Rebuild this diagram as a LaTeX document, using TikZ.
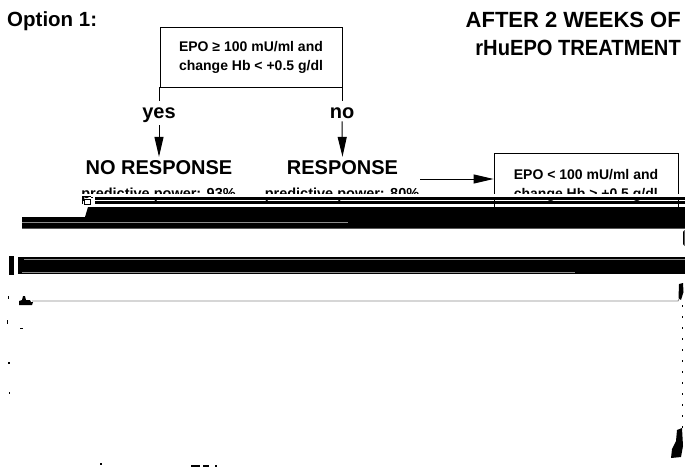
\documentclass[tikz,border=0pt]{standalone}
\usepackage{fontspec}
\setmainfont{Liberation Sans}
\usepackage{graphicx}
\usetikzlibrary{arrows.meta}
\definecolor{scangray}{RGB}{140,140,140}
\begin{document}
\begin{tikzpicture}[x=1pt,y=-1pt,
  title/.style={font=\fontsize{22}{26}\selectfont\bfseries, inner sep=0pt},
  big/.style={font=\fontsize{20}{24}\selectfont\bfseries, inner sep=0pt},
  lab/.style={font=\fontsize{20}{24}\selectfont\bfseries, inner sep=2pt},
  small/.style={font=\fontsize{14.5}{18}\selectfont\bfseries, inner sep=0pt},
  qbox/.style={draw, line width=0.8pt, font=\fontsize{14}{19}\selectfont\bfseries, align=left, inner sep=0pt},
  arr/.style={line width=1pt, -{Triangle[length=20pt,width=9pt]}},
  thin/.style={line width=0.8pt},
  bar/.style={fill=black},
  scanline/.style={draw=scangray, line width=0.9pt}]
\useasboundingbox (0,0) rectangle (685,468);

% titles
\node[title, anchor=base west] (opt) at (7,27) {\fontsize{20.5}{24}\selectfont Option 1:};
\node[title, anchor=base east] (t1) at (681,28) {AFTER 2 WEEKS OF};
\node[title, anchor=base east] (t2) at (681,56) {\scalebox{0.915}[1]{rHuEPO TREATMENT}};

% top question box
\node[qbox, minimum width=182pt, minimum height=60pt] (q1) at (251,57)
  {EPO ≥ 100 mU/ml and\\change Hb < +0.5 g/dl};
\draw[thin] (q1.south west) -- ++(0,14);
\draw[thin] (q1.south east) -- ++(0,14);

\node[lab, anchor=base] (yes) at (159,119) {yes};
\node[lab, anchor=base] (no) at (342,119) {no};

\node[big, anchor=base, inner ysep=3pt] (noresp) at (159,174) {NO RESPONSE};
\node[big, anchor=base, inner ysep=3pt] (resp) at (342.5,174) {RESPONSE};

\draw[arr] (yes.south) -- (noresp.north);
\draw[arr] (no.south) -- (resp.north);

\node[small, anchor=base] (pp1) at (158.5,198) {predictive power: 93\%};
\node[small, anchor=base] (pp2) at (342,198) {predictive power: 80\%};

% right box
\node[qbox, minimum width=184pt, minimum height=64pt] (q2) at (586,185)
  {EPO < 100 mU/ml and\\change Hb > +0.5 g/dl};
\coordinate (a0) at (420,179);
\draw[arr] (a0) -- (a0 -| q2.west);

% scan artefacts: the band that hides the lower half of the text
\fill[white] (60,194.3) rectangle (685,197.3);
\fill[bar] (95,197.3) rectangle (685,199.6);
\fill[bar] (95,201.3) rectangle (685,203.6);
\draw[line width=1pt] (82,204) -- (82,196.5) -- (91,196.5);
\draw[line width=0.8pt] (84,199) rectangle (90,204);
\fill[bar] (88,207) -- (685,207) -- (685,228.5) -- (22,228.5) -- (22,217) -- (85,217) -- cycle;
\draw[scanline] (22,222.5) -- (348,222.5);

\fill[bar] (18,257) rectangle (685,274);
\fill[bar] (9,255.5) rectangle (13.5,274.5);
\draw[scanline] (24,259.5) -- (685,259.5);
\draw[scanline] (22,272.6) -- (575,272.6);

\draw[scanline] (32,301) -- (678,301) -- (680,297);
\fill[bar] (679,284) -- (683,283) -- (683.5,292) -- (681,300) -- (678.5,298) -- cycle;
\fill[bar] (683,232) -- (684.5,230) -- (684.5,246) -- (683,244) -- cycle;

% small blob at left
\fill[bar] (19,305) -- (19,301) -- (22,300) -- (23,296) -- (25,296) -- (26,300) -- (30,300) -- (31,302) -- (33,302) -- (32,305) -- cycle;
\fill[bar] (7.5,295.5) rectangle (9,299);
\fill[bar] (6.5,320) rectangle (7.5,324);
\fill[bar] (20,327.5) rectangle (23,329);
\fill[bar] (7.5,362) rectangle (9.5,364);
\fill[bar] (8.5,392) rectangle (10,394);

% right edge marks
\draw[line width=1pt, dash pattern=on 2pt off 9pt] (682,305) -- (682,428);
\fill[bar] (677,430) -- (682,428) -- (683,446) -- (681,457) -- (671,458) -- (672,449) -- (676,441) -- cycle;

% bottom marks
\fill[bar] (191,464.5) rectangle (200,467);
\fill[bar] (203,464.5) rectangle (209,466.5);
\fill[bar] (215,464.5) rectangle (217,466.5);
\fill[bar] (100,463) rectangle (101.5,465);
\end{tikzpicture}
\end{document}
